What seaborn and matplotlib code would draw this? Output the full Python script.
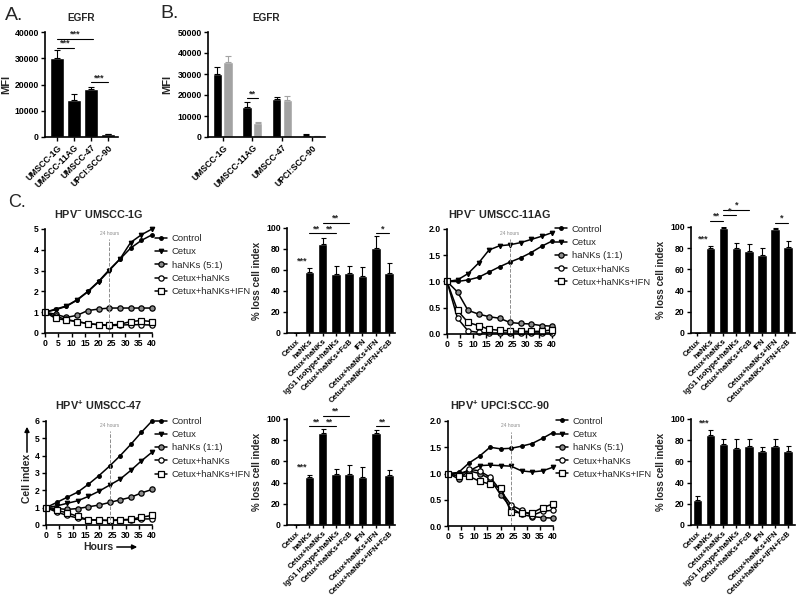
import numpy as np
import pandas as pd
import matplotlib
matplotlib.use('Agg')
import matplotlib.pyplot as plt
import seaborn as sns

# EGFR surface levels (panels A and B)
cell_lines = ['UMSCC-1G', 'UMSCC-11AG', 'UMSCC-47', 'UPCI:SCC-90']
egfr_a = [30000, 14200, 18300, 1000]
egfr_a_err = [3200, 2300, 800, 300]
egfr_b_dark = [30000, 14200, 18300, 1000]
egfr_b_dark_err = [3200, 2300, 800, 300]
egfr_b_light = [35500, 6500, 17600, 500]
egfr_b_light_err = [3300, 700, 2000, 200]

# real-time cell index curves (panel C)
hours = [0, 4, 8, 12, 16, 20, 24, 28, 32, 36, 40]

ctrl_1g = [1.0, 1.15, 1.3, 1.6, 2.0, 2.48, 3.04, 3.55, 4.08, 4.45, 4.72]
cetux_1g = [1.0, 1.12, 1.28, 1.58, 1.98, 2.45, 3.0, 3.55, 4.35, 4.72, 5.0]
hank_1g = [1.0, 0.9, 0.75, 0.85, 1.08, 1.15, 1.2, 1.2, 1.2, 1.2, 1.2]
cethank_1g = [1.0, 0.8, 0.65, 0.55, 0.45, 0.4, 0.35, 0.38, 0.4, 0.4, 0.38]
ifn_1g = [1.0, 0.7, 0.62, 0.55, 0.45, 0.4, 0.38, 0.42, 0.55, 0.6, 0.55]

ctrl_11ag = [1.0, 1.0, 1.03, 1.08, 1.18, 1.28, 1.37, 1.45, 1.55, 1.67, 1.77]
cetux_11ag = [1.0, 1.03, 1.15, 1.35, 1.6, 1.68, 1.7, 1.74, 1.8, 1.86, 1.93]
hank_11ag = [1.0, 0.8, 0.45, 0.38, 0.33, 0.3, 0.22, 0.2, 0.19, 0.16, 0.15]
cethank_11ag = [1.0, 0.3, 0.06, 0.03, 0.02, 0.02, 0.02, 0.02, 0.02, 0.02, 0.02]
ifn_11ag = [1.0, 0.45, 0.22, 0.16, 0.09, 0.07, 0.06, 0.05, 0.05, 0.05, 0.08]

ctrl_47 = [1.0, 1.3, 1.6, 1.9, 2.35, 2.85, 3.4, 4.0, 4.65, 5.35, 6.0]
cetux_47 = [1.0, 1.1, 1.25, 1.4, 1.65, 1.95, 2.3, 2.65, 3.15, 3.7, 4.2]
hank_47 = [1.0, 0.95, 0.9, 0.95, 1.05, 1.15, 1.3, 1.45, 1.6, 1.85, 2.05]
cethank_47 = [1.0, 0.75, 0.55, 0.4, 0.3, 0.28, 0.25, 0.28, 0.3, 0.35, 0.35]
ifn_47 = [1.0, 0.85, 0.7, 0.5, 0.3, 0.28, 0.27, 0.3, 0.33, 0.45, 0.55]

ctrl_90 = [1.0, 1.02, 1.2, 1.33, 1.5, 1.47, 1.48, 1.52, 1.57, 1.67, 1.78]
cetux_90 = [1.0, 1.0, 1.05, 1.15, 1.16, 1.15, 1.14, 1.05, 1.03, 1.05, 1.12]
hank_90 = [1.0, 0.9, 1.05, 1.0, 0.9, 0.6, 0.35, 0.22, 0.18, 0.16, 0.15]
cethank_90 = [1.0, 0.95, 1.08, 1.05, 0.93, 0.68, 0.4, 0.3, 0.2, 0.28, 0.3]
ifn_90 = [1.0, 0.95, 0.95, 0.85, 0.8, 0.72, 0.27, 0.25, 0.25, 0.35, 0.42]

# % loss of cell index at 24 h
bar_labels = ['Cetux', 'haNKs', 'Cetux+haNKs', 'IgG1 isotype+haNKs', 'Cetux+haNKs+FcB',
              'IFN', 'Cetux+haNKs+IFN', 'Cetux+haNKs+IFN+FcB']
loss_1g = [0, 58, 85, 56, 57, 54, 81, 57]
loss_1g_err = [0, 4, 5, 8, 7, 9, 11, 10]
loss_11ag = [0, 80, 99, 80, 77, 74, 98, 81]
loss_11ag_err = [0, 2, 1, 5, 7, 6, 1, 6]
loss_47 = [0, 45, 87, 48, 48, 45, 87, 47]
loss_47_err = [0, 2, 4, 5, 9, 10, 3, 5]
loss_90 = [24, 85, 76, 73, 75, 70, 75, 70]
loss_90_err = [3, 5, 5, 8, 6, 4, 6, 5]

sns.set_theme(style='ticks')
plt.rcParams['font.family'] = ['Liberation Sans', 'DejaVu Sans']
plt.rcParams['font.weight'] = 'bold'
plt.rcParams['axes.labelweight'] = 'bold'
plt.rcParams['axes.titleweight'] = 'bold'
plt.rcParams['mathtext.fontset'] = 'custom'
plt.rcParams['mathtext.rm'] = 'Liberation Sans:bold'
plt.rcParams['mathtext.bf'] = 'Liberation Sans:bold'
plt.rcParams['mathtext.default'] = 'bf'

W, H = 800, 601
fig = plt.figure(figsize=(W / 100, H / 100), dpi=100)


def px_axes(l, t, r, b):
    return fig.add_axes([l / W, 1 - b / H, (r - l) / W, (b - t) / H])


def style(ax):
    sns.despine(ax=ax)
    for s in ('left', 'bottom'):
        ax.spines[s].set_linewidth(1.2)
        ax.spines[s].set_color('black')
    ax.tick_params(width=1, length=3, labelsize=6.2, pad=1.5, colors='black')
    ax.set_xlabel('')


def sig(ax, x0, x1, y, txt):
    if x0 != x1:
        ax.plot([x0, x1], [y, y], color='black', lw=0.8, clip_on=False)
    ax.text((x0 + x1) / 2, y, txt, ha='center', va='bottom', fontsize=6.5, clip_on=False)


# ---- A ----
ax = px_axes(45, 32, 118, 137)
sns.barplot(x=cell_lines, y=egfr_a, color='black', saturation=1, width=0.8, errorbar=None, ax=ax)
ax.errorbar(range(4), egfr_a, yerr=[np.zeros(4), egfr_a_err], fmt='none', ecolor='black',
            elinewidth=0.8, capsize=2, capthick=0.8)
ax.set_ylim(0, 40000)
ax.set_xlim(-0.7, 3.6)
ax.set_yticks(range(0, 40001, 10000))
ax.set_xticks(range(4))
ax.set_xticklabels(cell_lines, rotation=45, ha='right', rotation_mode='anchor')
ax.set_ylabel('MFI', fontsize=8, labelpad=2)
ax.set_title('EGFR', fontsize=7.2, pad=8)
style(ax)
sig(ax, 0, 2.1, 37500, '***')
sig(ax, 0, 1, 34000, '***')
sig(ax, 2, 3, 20800, '***')

# ---- B ----
ax = px_axes(208, 32, 325, 137)
df_b = pd.DataFrame({'line': cell_lines * 2,
                     'MFI': egfr_b_dark + egfr_b_light,
                     'set': ['dark'] * 4 + ['light'] * 4})
sns.barplot(data=df_b, x='line', y='MFI', hue='set', palette=['black', '#a3a3a3'],
            saturation=1, width=0.72, gap=0.12, errorbar=None, legend=False, ax=ax)
xs = np.arange(4)
ax.errorbar(xs - 0.18, egfr_b_dark, yerr=[np.zeros(4), egfr_b_dark_err], fmt='none',
            ecolor='black', elinewidth=0.8, capsize=2, capthick=0.8)
ax.errorbar(xs + 0.18, egfr_b_light, yerr=[np.zeros(4), egfr_b_light_err], fmt='none',
            ecolor='#a3a3a3', elinewidth=0.8, capsize=2, capthick=0.8)
ax.set_ylim(0, 50000)
ax.set_xlim(-0.5, 3.45)
ax.set_yticks(range(0, 50001, 10000))
ax.set_xticks(range(4))
ax.set_xticklabels(cell_lines, rotation=45, ha='right', rotation_mode='anchor')
ax.set_ylabel('MFI', fontsize=8, labelpad=4)
ax.set_title('EGFR', fontsize=7.2, pad=8)
style(ax)
sig(ax, 0.82, 1.18, 18500, '**')

# ---- C: line charts ----
marker_styles = [('o', 'black', 2.6), ('v', 'black', 3.2), ('o', '0.55', 3.8),
                 ('o', 'white', 3.8), ('s', 'white', 3.8)]


def line_panel(box, title, series, names, ymax, yticks, yfmt, leg_y):
    ax = px_axes(*box)
    for vals, name, (mk, fc, ms) in zip(series, names, marker_styles):
        sns.lineplot(x=hours, y=vals, ax=ax, color='black', lw=1.1, marker=mk, markersize=ms,
                     markerfacecolor=fc, markeredgecolor='black', markeredgewidth=0.9, label=name)
    for ln in ax.lines:
        ln.set_clip_on(False)
    ax.axvline(24, ymax=0.9, ls='--', color='0.55', lw=0.7)
    ax.text(24, ymax * 0.93, '24 hours', ha='center', va='bottom', fontsize=3.5,
            color='0.55', fontweight='normal')
    ax.set_xlim(0, 40)
    ax.set_ylim(0, ymax)
    ax.set_xticks(range(0, 41, 5))
    ax.set_yticks(yticks)
    ax.set_yticklabels([yfmt.format(v) for v in yticks])
    ax.set_title(title, fontsize=7.8, pad=8)
    style(ax)
    ax.legend(loc='upper left', bbox_to_anchor=(1.03, leg_y), frameon=False,
              prop={'size': 6.8, 'weight': 'normal'}, handlelength=1.3, handletextpad=0.45,
              labelspacing=0.45, borderaxespad=0, borderpad=0)
    return ax


line_panel((45, 229, 152, 333), 'HPV$^{-}$ UMSCC-1G',
           [ctrl_1g, cetux_1g, hank_1g, cethank_1g, ifn_1g],
           ['Control', 'Cetux', 'haNKs (5:1)', 'Cetux+haNKs', 'Cetux+haNKs+IFN'],
           5, range(6), '{:d}', 0.95)
line_panel((447, 229, 552, 334), 'HPV$^{-}$ UMSCC-11AG',
           [ctrl_11ag, cetux_11ag, hank_11ag, cethank_11ag, ifn_11ag],
           ['Control', 'Cetux', 'haNKs (1:1)', 'Cetux+haNKs', 'Cetux+haNKs+IFN'],
           2, [0, 0.5, 1.0, 1.5, 2.0], '{:.1f}', 1.04)
ax47 = line_panel((46, 421, 152, 525), 'HPV$^{+}$ UMSCC-47',
                  [ctrl_47, cetux_47, hank_47, cethank_47, ifn_47],
                  ['Control', 'Cetux', 'haNKs (1:1)', 'Cetux+haNKs', 'Cetux+haNKs+IFN'],
                  6, range(7), '{:d}', 1.04)
line_panel((448, 421, 553, 526), 'HPV$^{+}$ UPCI:SCC-90',
           [ctrl_90, cetux_90, hank_90, cethank_90, ifn_90],
           ['Control', 'Cetux', 'haNKs (5:1)', 'Cetux+haNKs', 'Cetux+haNKs+IFN'],
           2, [0, 0.5, 1.0, 1.5, 2.0], '{:.1f}', 1.04)

# axis titles with arrows on the UMSCC-47 chart
fig.text(27 / W, 1 - 478 / H, 'Cell index', rotation=90, ha='center', va='center', fontsize=7.5)
fig.text(98 / W, 1 - 547 / H, 'Hours', ha='center', va='center', fontsize=7.5)
arrow = dict(arrowstyle='-|>', color='black', lw=1.1, mutation_scale=7)
ax47.annotate('', xy=(27 / W, 1 - 424 / H), xytext=(27 / W, 1 - 455 / H),
              xycoords='figure fraction', arrowprops=arrow)
ax47.annotate('', xy=(140 / W, 1 - 547 / H), xytext=(114 / W, 1 - 547 / H),
              xycoords='figure fraction', arrowprops=arrow)


# ---- C: bar charts ----
def bar_panel(box, vals, errs, xlim):
    ax = px_axes(*box)
    df = pd.DataFrame({'treatment': bar_labels, 'loss': vals})
    sns.barplot(data=df, x='treatment', y='loss', color='black', saturation=1, width=0.72,
                errorbar=None, ax=ax)
    n = len(vals)
    ax.errorbar(range(n), vals, yerr=[np.zeros(n), errs], fmt='none', ecolor='black',
                elinewidth=0.8, capsize=1.8, capthick=0.8)
    ax.set_ylim(0, 100)
    ax.set_xlim(*xlim)
    ax.set_yticks(range(0, 101, 20))
    ax.set_xticks(range(n))
    ax.set_xticklabels(bar_labels, rotation=45, ha='right', rotation_mode='anchor')
    ax.set_ylabel('% loss cell index', fontsize=7, labelpad=3)
    style(ax)
    ax.tick_params(axis='x', labelsize=5.6, length=2)
    return ax


ax = bar_panel((287, 228, 395, 333), loss_1g, loss_1g_err, (-0.68, 7.45))
sig(ax, 0.45, 0.45, 64, '***')
sig(ax, 1, 2, 95, '**')
sig(ax, 2, 3, 95, '**')
sig(ax, 2, 4, 105, '**')
sig(ax, 6, 7, 95, '*')

ax = bar_panel((691, 227, 795, 333), loss_11ag, loss_11ag_err, (-0.5, 7.55))
sig(ax, 0.45, 0.45, 84, '***')
sig(ax, 1, 2, 106, '**')
sig(ax, 2, 3, 111, '*')
sig(ax, 2, 4, 116, '*')
sig(ax, 6, 7, 104, '*')

ax = bar_panel((287, 419, 395, 525), loss_47, loss_47_err, (-0.68, 7.45))
sig(ax, 0.45, 0.45, 50, '***')
sig(ax, 1, 2, 93, '**')
sig(ax, 2, 3, 93, '**')
sig(ax, 2, 4, 103, '**')
sig(ax, 6, 7, 93, '**')

ax = bar_panel((691, 419, 795, 525), loss_90, loss_90_err, (-0.5, 7.55))
sig(ax, 0.5, 0.5, 92, '***')

# panel letters
fig.text(5 / W, 1 - 15 / H, 'A.', fontsize=14, fontweight='normal', va='center')
fig.text(160 / W, 1 - 14 / H, 'B.', fontsize=14, fontweight='normal', va='center')
fig.text(8 / W, 1 - 203 / H, 'C.', fontsize=13, fontweight='normal', va='center')

fig.savefig('out.png', dpi=100)
